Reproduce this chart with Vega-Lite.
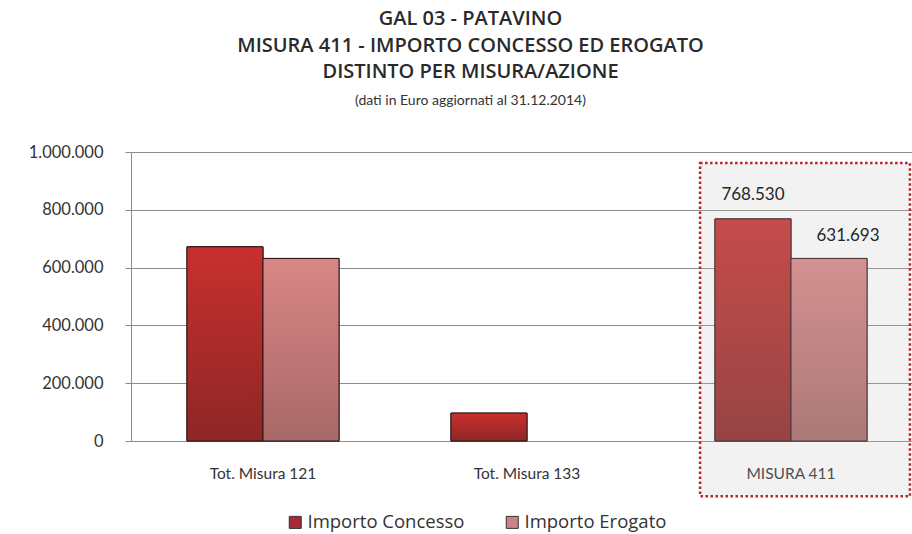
{
  "$schema": "https://vega.github.io/schema/vega-lite/v6.json",
  "autosize": {"type": "none"},
  "padding": {"left": 131, "top": 152, "right": 0, "bottom": 93},
  "width": 781,
  "height": 289,
  "background": "white",
  "title": {
    "text": ["GAL 03 - PATAVINO", "MISURA 411 - IMPORTO CONCESSO ED EROGATO", "DISTINTO PER MISURA/AZIONE"],
    "subtitle": "(dati in Euro aggiornati  al 31.12.2014)",
    "anchor": "middle",
    "frame": "group",
    "dx": -51,
    "offset": 36,
    "font": "Open Sans",
    "fontSize": 20,
    "fontWeight": 600,
    "lineHeight": 26.5,
    "color": "#2a2a2a",
    "subtitleFont": "Lato",
    "subtitleFontSize": 14,
    "subtitleColor": "#333333",
    "subtitlePadding": 12
  },
  "data": {
    "values": [
      {"cat": "Tot. Misura 121", "serie": "Importo Concesso", "valore": 672000},
      {"cat": "Tot. Misura 121", "serie": "Importo Erogato", "valore": 631693},
      {"cat": "Tot. Misura 133", "serie": "Importo Concesso", "valore": 96530},
      {"cat": "MISURA 411", "serie": "Importo Concesso", "valore": 768530},
      {"cat": "MISURA 411", "serie": "Importo Erogato", "valore": 631693}
    ]
  },
  "encoding": {
    "x": {
      "field": "cat",
      "type": "nominal",
      "sort": ["Tot. Misura 121", "Tot. Misura 133", "MISURA 411"],
      "scale": {"range": [0, 792], "paddingInner": 0.424, "paddingOuter": 0.212},
      "axis": {
        "title": null,
        "labelAngle": 0,
        "labelFont": "Lato",
        "labelFontSize": 15.5,
        "labelColor": "#333333",
        "labelPadding": 25,
        "ticks": false,
        "domainColor": "#8c8c8c",
        "grid": false
      }
    },
    "y": {
      "field": "valore",
      "type": "quantitative",
      "scale": {"domain": [0, 1000000], "nice": false},
      "axis": {
        "title": null,
        "values": [0, 200000, 400000, 600000, 800000, 1000000],
        "format": ",d",
        "labelFont": "Lato",
        "labelFontSize": 16.5,
        "labelColor": "#333333",
        "labelPadding": 22,
        "tickSize": 6,
        "tickColor": "#8c8c8c",
        "domainColor": "#8c8c8c",
        "grid": true,
        "gridColor": "#8c8c8c"
      }
    }
  },
  "layer": [
    {
      "mark": {"type": "bar", "stroke": "#2b1616", "strokeWidth": 1},
      "encoding": {
        "xOffset": {"field": "serie", "type": "nominal", "scale": {"paddingInner": 0, "paddingOuter": 0}},
        "color": {
          "field": "serie",
          "type": "nominal",
          "scale": {"domain": ["Importo Concesso", "Importo Erogato"], "range": ["#a32a36", "#c9828a"]},
          "legend": {
            "title": null,
            "orient": "none",
            "direction": "horizontal",
            "legendX": 155,
            "legendY": 361,
            "symbolType": "square",
            "symbolSize": 144,
            "symbolStrokeColor": "#333333",
            "symbolStrokeWidth": 1,
            "labelFont": "Open Sans",
            "labelFontSize": 18.5,
            "labelColor": "#333333",
            "labelOffset": 3,
            "columnPadding": 38
          }
        }
      }
    },
    {
      "transform": [{"filter": "datum.serie === 'Importo Concesso'"}],
      "mark": {
        "type": "bar",
        "stroke": "#2b1616",
        "strokeWidth": 1,
        "fill": {
          "gradient": "linear", "x1": 0, "y1": 0, "x2": 0, "y2": 1,
          "stops": [{"offset": 0, "color": "#c8302e"}, {"offset": 1, "color": "#8e2626"}]
        }
      },
      "encoding": {"xOffset": {"field": "serie", "type": "nominal"}}
    },
    {
      "transform": [{"filter": "datum.serie === 'Importo Erogato'"}],
      "mark": {
        "type": "bar",
        "stroke": "#2b1616",
        "strokeWidth": 1,
        "fill": {
          "gradient": "linear", "x1": 0, "y1": 0, "x2": 0, "y2": 1,
          "stops": [{"offset": 0, "color": "#da8686"}, {"offset": 1, "color": "#a86868"}]
        }
      },
      "encoding": {"xOffset": {"field": "serie", "type": "nominal"}}
    },
    {
      "transform": [{"filter": "datum.cat === 'MISURA 411' && datum.serie === 'Importo Concesso'"}],
      "mark": {
        "type": "bar",
        "width": {"band": 1.38},
        "xOffset": 14,
        "fill": "#bdbdbd",
        "fillOpacity": 0.2,
        "stroke": "#b8232c",
        "strokeWidth": 2.5,
        "strokeDash": [2.5, 2.5]
      },
      "encoding": {
        "x": {"datum": "MISURA 411"},
        "y": {"datum": 962000},
        "y2": {"datum": -191000}
      }
    },
    {
      "transform": [{"filter": "datum.cat === 'MISURA 411' && datum.serie === 'Importo Concesso'"}],
      "mark": {"type": "text", "align": "center", "dy": -24, "font": "Lato", "fontSize": 17, "color": "#262626"},
      "encoding": {
        "xOffset": {"field": "serie", "type": "nominal"},
        "text": {"field": "valore", "type": "quantitative", "format": ",d"}
      }
    },
    {
      "transform": [{"filter": "datum.cat === 'MISURA 411' && datum.serie === 'Importo Erogato'"}],
      "mark": {"type": "text", "align": "center", "dy": -22, "dx": 19, "font": "Lato", "fontSize": 17, "color": "#262626"},
      "encoding": {
        "xOffset": {"field": "serie", "type": "nominal"},
        "text": {"field": "valore", "type": "quantitative", "format": ",d"}
      }
    }
  ],
  "config": {
    "view": {"stroke": null},
    "locale": {
      "number": {"decimal": ",", "thousands": ".", "grouping": [3], "currency": ["€", ""]}
    }
  }
}
